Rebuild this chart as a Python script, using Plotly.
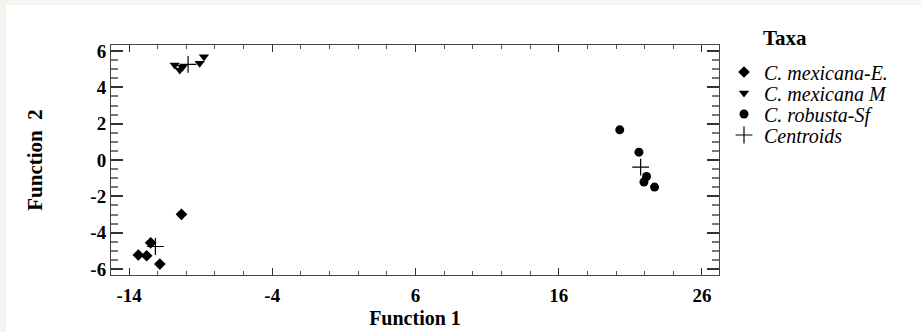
import plotly.graph_objects as go

# Data
mexE_x = [-13.35, -12.77, -12.49, -11.85, -10.34]
mexE_y = [-5.23, -5.27, -4.56, -5.73, -2.99]
mexM_x = [-10.81, -10.46, -10.27, -9.07, -8.77]
mexM_y = [5.23, 4.96, 5.10, 5.32, 5.69]
rob_x = [20.26, 21.60, 22.13, 21.95, 22.69]
rob_y = [1.66, 0.43, -0.91, -1.21, -1.49]
cen_x = [-12.16, -9.88, 21.72]
cen_y = [-4.76, 5.26, -0.39]

names = ["<i>C. mexicana-E.</i>", "<i>C. mexicana M</i>", "<i>C. robusta-Sf</i>", "<i>Centroids</i>"]
x_ticks = [-14, -4, 6, 16, 26]
y_ticks = [-6, -4, -2, 0, 2, 4, 6]
x_ticktext = ["-14", "-4", "6", "16", "26"]
y_ticktext = ["-6", "-4", "-2", "0", "2", "4", "6"]

serif = "Liberation Serif"

L, R, T, B = 111, 202, 45, 57
W, H = 921, 332
pw, ph = W - L - R, H - T - B


def px_x(p):
    return (p - L) / pw


def px_y(p):
    return (H - B - p) / ph


fig = go.Figure()
fig.add_trace(go.Scatter(x=mexE_x, y=mexE_y, mode="markers", name=names[0], legend="legend",
                         marker=dict(symbol="diamond", size=9, color="black")))
fig.add_trace(go.Scatter(x=mexM_x, y=mexM_y, mode="markers", name=names[1], legend="legend2",
                         marker=dict(symbol="triangle-down", size=9, color="black")))
fig.add_trace(go.Scatter(x=rob_x, y=rob_y, mode="markers", name=names[2], legend="legend3",
                         marker=dict(symbol="circle", size=9, color="black")))
fig.add_trace(go.Scatter(x=cen_x, y=cen_y, mode="markers", name=names[3], legend="legend4",
                         marker=dict(symbol="cross-thin-open", size=12, color="black",
                                     line=dict(width=1.2, color="black"))))

axis_common = dict(showgrid=False, zeroline=False, showline=True, linecolor="#444",
                   linewidth=1, mirror="ticks", ticks="inside", tickcolor="#333",
                   automargin=False,
                   tickfont=dict(family=serif, size=19, color="black", weight="bold"))

fig.update_xaxes(range=[-15.26, 27.19], tickvals=x_ticks, ticktext=x_ticktext, ticklen=7, tickwidth=1,
                 ticklabelstandoff=3,
                 minor=dict(dtick=2, tick0=-14, ticks="inside", ticklen=4, tickcolor="#555"),
                 title=dict(text="Function 1", font=dict(family=serif, size=20, color="black", weight="bold"),
                            standoff=6),
                 **axis_common)
fig.update_yaxes(range=[-6.33, 6.33], tickvals=y_ticks, ticktext=y_ticktext, ticklen=12, tickwidth=1.5,
                 minor=dict(dtick=0.5, tick0=0, ticks="inside", ticklen=7, tickcolor="#777"),
                 title=dict(text="Function  2", font=dict(family=serif, size=21, color="black", weight="bold"),
                            standoff=42),
                 **axis_common)

bg = "#f3f5ee"
fig.add_shape(type="rect", xref="paper", yref="paper", x0=px_x(0), x1=px_x(6),
              y0=px_y(H), y1=px_y(0), fillcolor=bg, line=dict(width=0), layer="below")
fig.add_shape(type="rect", xref="paper", yref="paper", x0=px_x(0), x1=px_x(W),
              y0=px_y(5), y1=px_y(0), fillcolor=bg, line=dict(width=0), layer="below")

fig.add_annotation(text="<b>Taxa</b>", xref="paper", yref="paper",
                   x=px_x(761), y=px_y(38), xanchor="left", yanchor="middle",
                   showarrow=False, font=dict(family=serif, size=21, color="black"))

legend_rows = [72, 93, 114, 135]
leg_style = dict(xanchor="left", yanchor="middle", font=dict(family=serif, size=20, color="black"),
                 itemwidth=30, bgcolor="rgba(0,0,0,0)", borderwidth=0)

fig.update_layout(
    width=W, height=H, margin=dict(l=L, r=R, t=T, b=B, autoexpand=False),
    paper_bgcolor="white", plot_bgcolor="white",
    showlegend=True,
    legend=dict(x=px_x(724), y=px_y(legend_rows[0]), **leg_style),
    legend2=dict(x=px_x(724), y=px_y(legend_rows[1]), **leg_style),
    legend3=dict(x=px_x(724), y=px_y(legend_rows[2]), **leg_style),
    legend4=dict(x=px_x(724), y=px_y(legend_rows[3]), **leg_style),
    font=dict(family=serif),
)

fig.write_html("out.html", config={"displayModeBar": False},
               post_script="document.body.style.margin='0';")
